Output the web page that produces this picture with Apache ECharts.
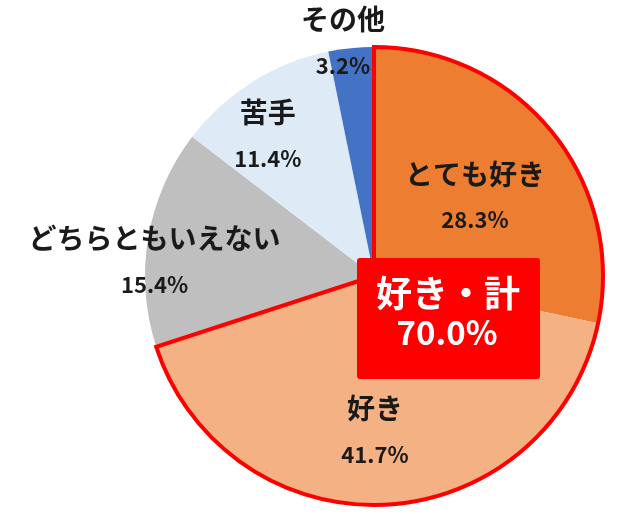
<!DOCTYPE html>
<html><head><meta charset="utf-8">
<script src="https://cdn.jsdelivr.net/npm/echarts@6/dist/echarts.min.js"></script>
<style>html,body{margin:0;padding:0;background:#fff}#c{width:630px;height:514px}</style>
</head><body><div id="c"></div>
<script>
const categories = ['とても好き', '好き', 'どちらともいえない', '苦手', 'その他'];
const values = [28.3, 41.7, 15.4, 11.4, 3.2];
const totalLabel = '好き・計';
const likeIdx = [0, 1];

const colors = ['#ED7D31', '#F4B183', '#BFBFBF', '#DEEBF7', '#4472C4'];
const labelRadius = [0.56, 0.68, 0.96, 0.77, 1.03];
const labelAngleShift = [-1, -2.7, 6, 5, 1.8];
const CX = 374, CY = 276, R = 229;
const FONT = '"Noto Sans CJK JP", "Noto Sans", sans-serif';

const sum = values.reduce((a, b) => a + b, 0);
const likeSum = likeIdx.reduce((a, i) => a + values[i], 0);

function midAngle(i) {
  let before = 0;
  for (let k = 0; k < i; k++) before += values[k];
  return 90 - (before + values[i] / 2) / sum * 360;
}

const chart = echarts.init(document.getElementById('c'), null, {renderer: 'canvas'});
chart.setOption({
  animation: false,
  series: [
    {
      type: 'pie',
      center: [CX, CY],
      radius: R,
      startAngle: 90,
      clockwise: true,
      avoidLabelOverlap: false,
      itemStyle: {borderWidth: 0},
      emphasis: {disabled: true},
      label: {
        show: true,
        position: 'inside',
        formatter: p => '{n|' + p.name + '}\n{p|' + p.value.toFixed(1) + '%}',
        rich: {
          n: {fontFamily: FONT, fontSize: 28, fontWeight: 'bold', color: '#1a1a1a', lineHeight: 46, align: 'center'},
          p: {fontFamily: FONT, fontSize: 22, fontWeight: 'bold', color: '#1a1a1a', lineHeight: 46, align: 'center'}
        }
      },
      labelLayout: function (params) {
        const i = params.dataIndex;
        const a = (midAngle(i) + labelAngleShift[i]) * Math.PI / 180;
        const r = R * labelRadius[i];
        return {x: CX + r * Math.cos(a), y: CY - r * Math.sin(a), align: 'center', verticalAlign: 'middle'};
      },
      labelLine: {show: false},
      data: categories.map((c, i) => ({name: c, value: values[i], itemStyle: {color: colors[i]}}))
    },
    {
      type: 'pie',
      center: [CX, CY],
      radius: R,
      startAngle: 90,
      clockwise: true,
      silent: true,
      z: 5,
      label: {show: false},
      labelLine: {show: false},
      emphasis: {disabled: true},
      data: [
        {name: totalLabel, value: likeSum, itemStyle: {color: 'rgba(0,0,0,0)', borderColor: '#FF0000', borderWidth: 4, borderJoin: 'miter'}},
        {name: 'rest', value: sum - likeSum, itemStyle: {color: 'rgba(0,0,0,0)', borderWidth: 0}}
      ]
    }
  ],
  graphic: {
    elements: [
      {type: 'rect', z: 100, shape: {x: 357, y: 258, width: 183, height: 121, r: 3}, style: {fill: '#FF0000'}},
      {type: 'text', z: 101, x: 448, y: 293, style: {text: totalLabel, fill: '#ffffff', fontFamily: FONT, fontSize: 36, fontWeight: 'bold', align: 'center', verticalAlign: 'middle'}},
      {type: 'text', z: 101, x: 447, y: 332, style: {text: likeSum.toFixed(1) + '%', fill: '#ffffff', fontFamily: FONT, fontSize: 33, fontWeight: 'bold', align: 'center', verticalAlign: 'middle'}}
    ]
  }
});
</script></body></html>
